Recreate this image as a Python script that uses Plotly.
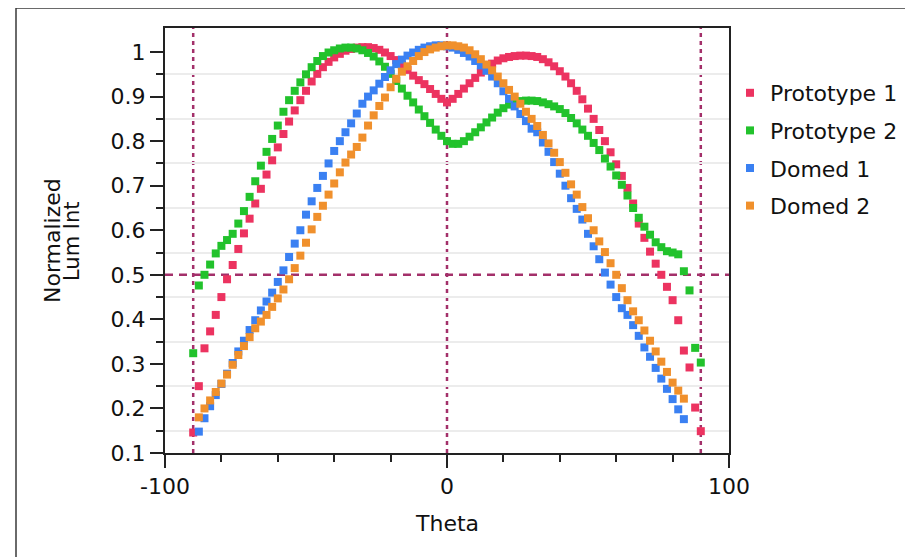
import plotly.graph_objects as go

# ---------------- data ----------------
theta_proto = [-90, -88, -86, -84, -82, -80, -78, -76, -74, -72,
               -70, -68, -66, -64, -62, -60, -58, -56, -54, -52,
               -50, -48, -46, -44, -42, -40, -38, -36, -34, -32,
               -30, -28, -26, -24, -22, -20, -18, -16, -14, -12,
               -10, -8, -6, -4, -2, 0, 2, 4, 6, 8,
               10, 12, 14, 16, 18, 20, 22, 24, 26, 28,
               30, 32, 34, 36, 38, 40, 42, 44, 46, 48,
               50, 52, 54, 56, 58, 60, 62, 64, 66, 68,
               70, 72, 74, 76, 78, 80, 82, 84, 86, 88,
               90]

prototype_1 = [0.146, 0.25, 0.335, 0.373, 0.41, 0.45, 0.49, 0.522, 0.558, 0.593,
               0.626, 0.66, 0.693, 0.725, 0.757, 0.786, 0.816, 0.844, 0.869, 0.892,
               0.913, 0.934, 0.951, 0.966, 0.978, 0.988, 0.996, 1.003, 1.007, 1.01,
               1.011, 1.011, 1.009, 1.005, 0.999, 0.991, 0.982, 0.971, 0.96, 0.947,
               0.937, 0.928, 0.917, 0.906, 0.895, 0.887, 0.895, 0.906, 0.918, 0.93,
               0.942, 0.954, 0.965, 0.974, 0.981, 0.986, 0.989, 0.991, 0.992, 0.992,
               0.991, 0.989, 0.984, 0.977, 0.968, 0.957, 0.945, 0.93, 0.913, 0.894,
               0.873, 0.85, 0.825, 0.8, 0.775, 0.748, 0.722, 0.695, 0.66, 0.615,
               0.583, 0.552, 0.525, 0.5, 0.473, 0.443, 0.398, 0.33, 0.292, 0.202,
               0.149]

prototype_2 = [0.324, 0.476, 0.5, 0.523, 0.548, 0.565, 0.578, 0.592, 0.615, 0.643,
               0.675, 0.71, 0.745, 0.776, 0.805, 0.835, 0.866, 0.892, 0.913, 0.932,
               0.95, 0.966, 0.98, 0.991, 0.999, 1.004, 1.008, 1.01, 1.01, 1.008,
               1.004, 0.998, 0.99, 0.979, 0.967, 0.951, 0.935, 0.918, 0.902, 0.887,
               0.871, 0.856, 0.841, 0.826, 0.812, 0.8, 0.794, 0.794, 0.8, 0.81,
               0.82, 0.831, 0.842, 0.853, 0.864, 0.874, 0.882, 0.887, 0.89, 0.891,
               0.891, 0.89, 0.887, 0.883, 0.878, 0.872, 0.863, 0.852, 0.84, 0.826,
               0.812, 0.796, 0.78, 0.761, 0.743, 0.723, 0.702, 0.678, 0.65, 0.628,
               0.608, 0.59, 0.573, 0.562, 0.553, 0.55, 0.546, 0.508, 0.465, 0.336,
               0.303]

theta_domed = [-88, -86, -84, -82, -80, -78, -76, -74, -72, -70,
               -68, -66, -64, -62, -60, -58, -56, -54, -52, -50,
               -48, -46, -44, -42, -40, -38, -36, -34, -32, -30,
               -28, -26, -24, -22, -20, -18, -16, -14, -12, -10,
               -8, -6, -4, -2, 0, 2, 4, 6, 8, 10,
               12, 14, 16, 18, 20, 22, 24, 26, 28, 30,
               32, 34, 36, 38, 40, 42, 44, 46, 48, 50,
               52, 54, 56, 58, 60, 62, 64, 66, 68, 70,
               72, 74, 76, 78, 80, 82, 84]

domed_1 = [0.148, 0.178, 0.205, 0.23, 0.255, 0.278, 0.302, 0.328, 0.352, 0.376,
           0.398, 0.42, 0.44, 0.46, 0.484, 0.51, 0.54, 0.57, 0.6, 0.635,
           0.665, 0.695, 0.722, 0.75, 0.778, 0.8, 0.82, 0.84, 0.862, 0.884,
           0.9, 0.914, 0.929, 0.944, 0.959, 0.973, 0.983, 0.992, 0.999, 1.005,
           1.01, 1.013, 1.015, 1.015, 1.013, 1.01, 1.005, 0.998, 0.99, 0.98,
           0.97, 0.958, 0.945, 0.93, 0.912, 0.895, 0.878, 0.861, 0.845, 0.828,
           0.82, 0.797, 0.776, 0.753, 0.727, 0.7, 0.672, 0.648, 0.624, 0.592,
           0.564, 0.535, 0.505, 0.478, 0.45, 0.425, 0.41, 0.387, 0.363, 0.337,
           0.316, 0.291, 0.267, 0.244, 0.221, 0.198, 0.176]

domed_2 = [0.18, 0.2, 0.218, 0.237, 0.256, 0.276, 0.298, 0.32, 0.34, 0.36,
           0.38, 0.395, 0.41, 0.428, 0.447, 0.467, 0.49, 0.515, 0.543, 0.572,
           0.602, 0.63, 0.655, 0.68, 0.705, 0.73, 0.752, 0.77, 0.787, 0.808,
           0.835, 0.858, 0.879, 0.898, 0.921, 0.94, 0.956, 0.968, 0.98, 0.991,
           1.0, 1.006, 1.01, 1.013, 1.015, 1.015, 1.013, 1.01, 1.004, 0.995,
           0.984, 0.972, 0.959, 0.945, 0.93, 0.915, 0.9, 0.884, 0.866, 0.85,
           0.834, 0.814, 0.795, 0.774, 0.753, 0.729, 0.703, 0.68, 0.652, 0.627,
           0.6, 0.575, 0.551, 0.526, 0.5, 0.47, 0.443, 0.418, 0.398, 0.375,
           0.352, 0.328, 0.305, 0.282, 0.258, 0.24, 0.222]

series_names = ["Prototype 1", "Prototype 2", "Domed 1", "Domed 2"]

x_tickvals = [-100, 0, 100]
x_ticktext = ["-100", "0", "100"]
x_minorvals = [-80, -60, -40, -20, 20, 40, 60, 80]
y_tickvals = [0.1, 0.2, 0.3, 0.4, 0.5, 0.6, 0.7, 0.8, 0.9, 1.0]
y_ticktext = ["0.1", "0.2", "0.3", "0.4", "0.5", "0.6", "0.7", "0.8", "0.9", "1"]
y_minorvals = [0.15, 0.25, 0.35, 0.45, 0.55, 0.65, 0.75, 0.85, 0.95]

ref_theta = [-90, 0, 90]
ref_level = [0.5]

# ---------------- style ----------------
FONT = "DejaVu Sans"
colors = ["#EC3360", "#22C22C", "#3A80F2", "#F0902C"]
ref_color = "#A3306A"

fig = go.Figure()
xs = [theta_proto, theta_proto, theta_domed, theta_domed]
ys = [prototype_1, prototype_2, domed_1, domed_2]
for name, x, y, c in zip(series_names, xs, ys, colors):
    fig.add_trace(go.Scatter(
        x=x, y=y, mode="markers", name=name, legendgroup=name,
        marker=dict(symbol="square", size=8, color=c, line=dict(width=0)),
    ))

for xv in ref_theta:
    fig.add_vline(x=xv, line=dict(color=ref_color, width=2.5, dash="4px,4px"),
                  layer="below")
for yv in ref_level:
    fig.add_hline(y=yv, line=dict(color=ref_color, width=2.5, dash="8px,6px"),
                  layer="below")

# page offset of the plot div inside the browser window
OFF = 8
W, H = 913, 557
# target plot area in screen pixels: x 165..729, y 28..453
L, R, T, B = 165 - OFF, W - (729 - OFF), 28 - OFF, H - (453 - OFF)
pw, ph = W - L - R, H - T - B


def px_x(p):
    return (p - OFF - L) / pw


def px_y(p):
    return (H - B - (p - OFF)) / ph


fig.add_shape(type="rect", xref="paper", yref="paper",
              x0=px_x(16), x1=px_x(907), y0=px_y(585), y1=px_y(8),
              line=dict(color="#3a3a3a", width=1.5), fillcolor="rgba(0,0,0,0)",
              layer="below")

axis_font = dict(family=FONT, size=22, color="#111")

fig.update_xaxes(
    range=[-100, 100], tickmode="array", tickvals=x_tickvals, ticktext=x_ticktext,
    ticks="outside", ticklen=13, tickwidth=2, tickcolor="#222",
    showgrid=False, zeroline=False,
    showline=True, linecolor="#222", linewidth=2, mirror=True,
    tickfont=axis_font,
    minor=dict(tickmode="array", tickvals=x_minorvals, ticks="outside",
               ticklen=7, tickwidth=2, tickcolor="#222", showgrid=False),
)
fig.update_yaxes(
    range=[0.1, 1.054], tickmode="array", tickvals=y_tickvals, ticktext=y_ticktext,
    ticks="outside", ticklen=13, tickwidth=2, tickcolor="#222",
    showgrid=False, zeroline=False,
    showline=True, linecolor="#222", linewidth=2, mirror=True,
    tickfont=axis_font,
    minor=dict(tickmode="array", tickvals=y_minorvals, ticks="outside",
               ticklen=7, tickwidth=2, tickcolor="#222",
               showgrid=True, gridcolor="#ececec", gridwidth=2),
)

fig.add_annotation(text="Theta", xref="paper", yref="paper",
                   x=px_x(447), y=px_y(523), xanchor="center", yanchor="middle",
                   showarrow=False,
                   font=dict(family=FONT, size=22, color="#111"))
fig.add_annotation(text="Normalized", xref="paper", yref="paper",
                   x=px_x(52), y=px_y(241), xanchor="center", yanchor="middle",
                   textangle=-90, showarrow=False,
                   font=dict(family=FONT, size=22, color="#111"))
fig.add_annotation(text="Lum Int", xref="paper", yref="paper",
                   x=px_x(72), y=px_y(241), xanchor="center", yanchor="middle",
                   textangle=-90, showarrow=False,
                   font=dict(family=FONT, size=21, color="#111"))

fig.update_layout(
    width=W, height=H, autosize=False,
    margin=dict(l=L, r=R, t=T, b=B, autoexpand=False),
    paper_bgcolor="white", plot_bgcolor="white",
    showlegend=True,
    legend=dict(x=px_x(730), y=px_y(72), xanchor="left", yanchor="top",
                font=dict(family=FONT, size=22, color="#111"),
                tracegroupgap=6, bgcolor="rgba(0,0,0,0)", itemsizing="trace"),
    font=dict(family=FONT),
)

fig.write_html("out.html")
